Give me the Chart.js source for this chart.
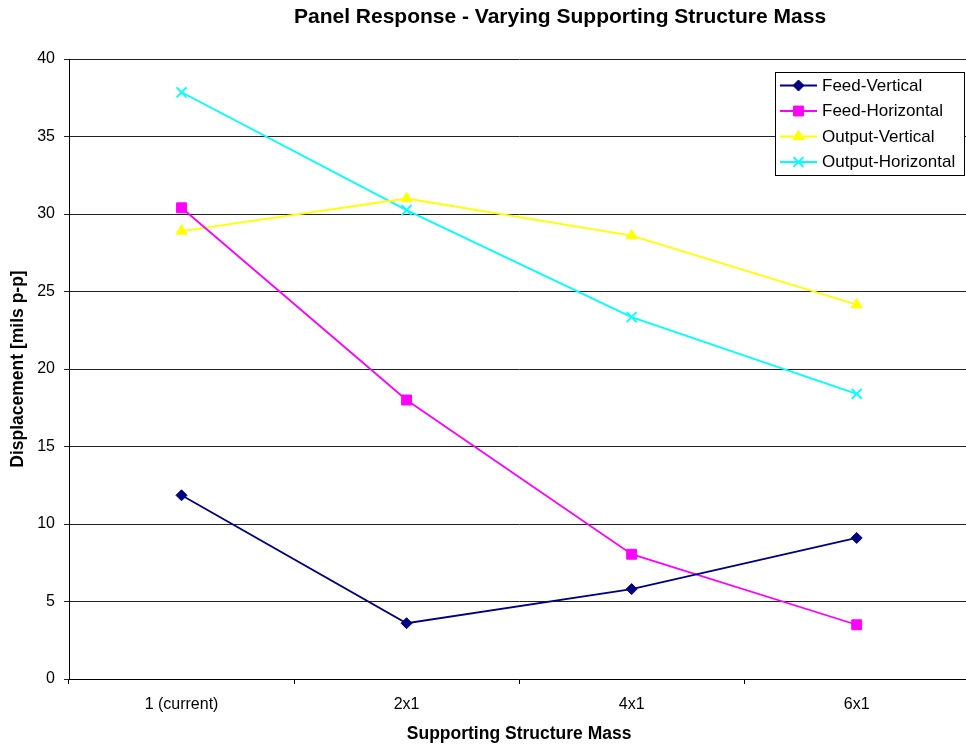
<!DOCTYPE html>
<html>
<head>
<meta charset="utf-8">
<script src="https://cdn.jsdelivr.net/npm/chart.js@4/dist/chart.umd.min.js"></script>
<style>
  html, body { margin: 0; padding: 0; background: #fff; overflow: hidden; }
  #wrap { width: 978px; height: 748px; }
  #c { width: 978px; height: 748px; display: block; }
</style>
</head>
<body>
<div id="wrap"><canvas id="c" width="978" height="748"></canvas></div>
<script>
// Supporting structure mass cases
const categories = ['1 (current)', '2x1', '4x1', '6x1'];

// Displacement, mils peak-to-peak
const feedVertical     = [11.85, 3.6, 5.8, 9.1];
const feedHorizontal   = [30.4, 18.0, 8.05, 3.5];
const outputVertical   = [28.9, 31.0, 28.6, 24.15];
const outputHorizontal = [37.85, 30.25, 23.35, 18.4];

const yTicks = [0, 5, 10, 15, 20, 25, 30, 35, 40];

const chartTitle = 'Panel Response - Varying Supporting Structure Mass';

const FONT = '"Liberation Sans", Arial, sans-serif';

function series(label, data, color, style, radius) {
  return {
    label, data,
    borderColor: color,
    backgroundColor: color,
    borderWidth: 1.8,
    pointStyle: style,
    pointRadius: radius,
    pointBorderWidth: style === 'crossRot' ? 1.8 : 1,
    pointHoverRadius: radius,
    tension: 0,
    fill: false
  };
}

// Chart heading, placed above the plot
const heading = {
  id: 'heading',
  afterDraw(chart) {
    const ctx = chart.ctx;
    ctx.save();
    ctx.font = 'bold 21px ' + FONT;
    ctx.fillStyle = '#000';
    ctx.textAlign = 'center';
    ctx.textBaseline = 'middle';
    ctx.fillText(chartTitle, 560, 17);
    ctx.restore();
  }
};

// Boxed legend drawn inside the plot area, top-right
const boxLegend = {
  id: 'boxLegend',
  afterDraw(chart) {
    const ctx = chart.ctx;
    const x0 = 775, y0 = 72, w = 189, h = 103, rowH = 25.5;
    ctx.save();
    ctx.fillStyle = '#fff';
    ctx.fillRect(x0, y0, w, h);
    ctx.strokeStyle = '#000';
    ctx.lineWidth = 1;
    ctx.strokeRect(x0 + 0.5, y0 + 0.5, w, h);
    ctx.font = '17px ' + FONT;
    ctx.textBaseline = 'middle';
    chart.data.datasets.forEach((ds, i) => {
      const y = y0 + 13.5 + i * rowH;
      ctx.strokeStyle = ds.borderColor;
      ctx.lineWidth = 1.8;
      ctx.beginPath();
      ctx.moveTo(780, y);
      ctx.lineTo(817, y);
      ctx.stroke();
      ctx.fillStyle = ds.backgroundColor;
      ctx.strokeStyle = ds.borderColor;
      ctx.lineWidth = ds.pointBorderWidth;
      Chart.helpers.drawPoint(ctx, {
        pointStyle: ds.pointStyle,
        radius: ds.pointRadius,
        borderWidth: ds.pointBorderWidth,
        rotation: 0
      }, 798.5, y);
      ctx.fillStyle = '#000';
      ctx.fillText(ds.label, 822, y + 0.5);
    });
    ctx.restore();
  }
};

const ctx = document.getElementById('c').getContext('2d');
new Chart(ctx, {
  type: 'line',
  data: {
    labels: categories,
    datasets: [
      series('Feed-Vertical', feedVertical, '#000080', 'rectRot', 5.5),
      series('Feed-Horizontal', feedHorizontal, '#FF00FF', 'rect', 7),
      series('Output-Vertical', outputVertical, '#FFFF00', 'triangle', 6.3),
      series('Output-Horizontal', outputHorizontal, '#00FFFF', 'crossRot', 7)
    ]
  },
  options: {
    responsive: false,
    animation: false,
    devicePixelRatio: 1,
    layout: { padding: { top: 59, right: 0, bottom: 0, left: 0 } },
    plugins: {
      legend: { display: false },
      tooltip: { enabled: false },
      title: { display: false }
    },
    scales: {
      x: {
        type: 'category',
        offset: true,
        afterFit(scale) { scale.height = 69; },
        border: { display: true, color: '#000', width: 1 },
        grid: {
          offset: true,
          drawOnChartArea: false,
          drawTicks: true,
          tickLength: 5,
          color: '#000'
        },
        ticks: {
          color: '#000',
          font: { family: FONT, size: 16 },
          padding: 11,
          maxRotation: 0
        },
        title: {
          display: true,
          text: 'Supporting Structure Mass',
          color: '#000',
          font: { family: FONT, size: 17.5, weight: 'bold' },
          padding: { top: 4, bottom: 3 }
        }
      },
      y: {
        min: 0,
        max: 40,
        afterFit(scale) { scale.width = 69; },
        afterBuildTicks(scale) {
          scale.ticks = yTicks.map(v => ({ value: v }));
        },
        border: { display: true, color: '#000', width: 1 },
        grid: {
          color: '#222',
          lineWidth: 1,
          drawTicks: true,
          tickLength: 5
        },
        ticks: {
          color: '#000',
          font: { family: FONT, size: 16 },
          padding: 9
        },
        title: {
          display: true,
          text: 'Displacement [mils p-p]',
          color: '#000',
          font: { family: FONT, size: 17.5, weight: 'bold' },
          padding: { top: 8, bottom: 6 }
        }
      }
    }
  },
  plugins: [heading, boxLegend]
});
</script>
</body>
</html>
